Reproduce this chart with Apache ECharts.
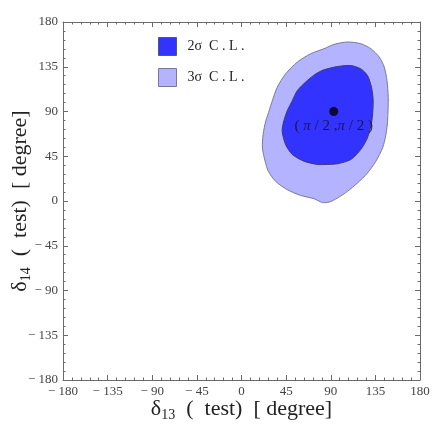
<!DOCTYPE html>
<html>
<head>
<meta charset="utf-8">
<script src="https://cdn.jsdelivr.net/npm/echarts@6/dist/echarts.min.js"></script>
<style>
  html, body { margin: 0; padding: 0; background: #fff; }
  #chart { width: 436px; height: 436px; }
</style>
</head>
<body>
<div id="chart"></div>
<script>
// axis range and tick step (degrees)
const axisRange = [-180, 180]
const axisStep = 45

// contour of the 3 sigma region: [delta13, delta14] in degrees
const contour3 = [
  [93.3, 157.5], [106.8, 159.9], [120.3, 158.2], [130.5, 153.1], [138.9, 144.7],
  [144.0, 134.6], [146.7, 121.1], [148.0, 104.2], [147.3, 80.6], [145.7, 67.0],
  [142.3, 53.5], [135.5, 40.0], [127.1, 28.2], [117.0, 18.1], [106.8, 9.7],
  [96.7, 2.9], [88.3, -1.1], [81.5, -1.5], [73.1, 2.3], [59.6, 5.6],
  [46.1, 11.4], [34.3, 19.8], [27.0, 29.9], [23.8, 40.0], [21.1, 53.5],
  [21.8, 67.0], [24.5, 80.6], [26.2, 85.6], [30.5, 99.1], [36.0, 114.3],
  [44.4, 127.8], [56.2, 139.6], [69.7, 148.1], [83.2, 153.1]
]

// contour of the 2 sigma region
const contour2 = [
  [96.7, 135.2], [110.2, 136.2], [120.3, 132.9], [127.1, 126.1], [131.1, 114.3],
  [132.8, 100.8], [131.5, 80.6], [127.1, 63.7], [120.3, 51.9], [110.2, 41.7],
  [96.7, 37.4], [83.2, 36.7], [76.5, 36.7], [63.0, 40.0], [51.2, 46.8],
  [44.4, 56.9], [41.0, 70.4], [42.7, 80.6], [46.1, 90.7], [51.2, 100.8],
  [56.2, 110.9], [66.3, 121.1], [74.8, 127.8], [83.2, 131.9]
]

// true point, as it sits in the picture
const truePoint = [93, 90]

const names = ['2σ  C . L .', '3σ  C . L .']

const serif = '"Liberation Serif", "DejaVu Serif", serif'
const tickColor = '#6a6a6a'

const chart = echarts.init(document.getElementById('chart'))

function fmt(v) {
  return v < 0 ? '\u2212 ' + Math.abs(v) : String(v)
}

function polygonSeries(name, pts, fill, stroke) {
  return {
    name: name,
    type: 'custom',
    coordinateSystem: 'cartesian2d',
    itemStyle: { color: fill },
    data: [[pts[0][0], pts[0][1]]],
    silent: true,
    renderItem: (params, api) => {
      return {
        type: 'polygon',
        shape: { points: pts.map((p) => api.coord(p)), smooth: 0.25 },
        style: { fill: fill, stroke: stroke, lineWidth: 1 },
      }
    },
  }
}

const baseAxis = {
  type: 'value',
  min: axisRange[0],
  max: axisRange[1],
  interval: axisStep,
  splitLine: { show: false },
  axisLine: { show: true, onZero: false, lineStyle: { color: tickColor, width: 1 } },
  axisTick: { show: true, inside: true, length: 5, lineStyle: { color: tickColor } },
  minorTick: { show: true, splitNumber: 5, length: 2.5, lineStyle: { color: tickColor } },
}

const labelStyle = { formatter: fmt, fontFamily: serif, fontSize: 13, color: '#444', margin: 5 }

const nameRich = {
  a: { fontFamily: serif, fontSize: 22, color: '#222' },
  s: { fontFamily: serif, fontSize: 14, color: '#222', verticalAlign: 'bottom', padding: [11, 0, 0, 0] },
}

const option = {
  animation: false,
  backgroundColor: '#fff',
  grid: { left: 63, right: 16, top: 22, bottom: 56, outerBoundsMode: 'none' },
  legend: {
    orient: 'vertical',
    left: 158,
    top: 37,
    padding: 0,
    itemWidth: 18,
    itemHeight: 18,
    itemGap: 12,
    textStyle: { fontFamily: serif, fontSize: 14, color: '#222', padding: [0, 0, 0, 6] },
    data: [
      { name: names[0], icon: 'rect', itemStyle: { color: '#3333ff', borderColor: '#555577', borderWidth: 1 } },
      { name: names[1], icon: 'rect', itemStyle: { color: '#b3b3ff', borderColor: '#777799', borderWidth: 1 } },
    ],
  },
  xAxis: [
    Object.assign({}, baseAxis, {
      position: 'bottom',
      axisLabel: labelStyle,
      name: '{a|δ}{s|13}{a|  (  test)  [ degree]}',
      nameLocation: 'middle',
      nameGap: 17,
      nameMoveOverlap: false,
      nameTextStyle: { rich: nameRich },
    }),
    Object.assign({}, baseAxis, { position: 'top', axisLabel: { show: false } }),
  ],
  yAxis: [
    Object.assign({}, baseAxis, {
      position: 'left',
      axisLabel: labelStyle,
      name: '{a|δ}{s|14}{a|  (  test)  [ degree]}',
      nameLocation: 'middle',
      nameGap: 30,
      nameMoveOverlap: false,
      nameTextStyle: { rich: nameRich },
    }),
    Object.assign({}, baseAxis, { position: 'right', axisLabel: { show: false } }),
  ],
  series: [
    polygonSeries(names[1], contour3, '#b3b3ff', '#7a7a96'),
    polygonSeries(names[0], contour2, '#3333ff', '#3a3a70'),
    {
      type: 'scatter',
      data: [truePoint],
      symbolSize: 9,
      itemStyle: { color: '#000' },
      silent: true,
      label: {
        show: true,
        position: 'bottom',
        distance: 3,
        formatter: '{n|( }{i|π}{n| / 2 ,}{i|π}{n| / 2 )}',
        rich: {
          n: { fontFamily: serif, fontSize: 15, color: '#111' },
          i: { fontFamily: serif, fontSize: 15, fontStyle: 'italic', color: '#111' },
        },
      },
    },
  ],
}

chart.setOption(option)
</script>
</body>
</html>
